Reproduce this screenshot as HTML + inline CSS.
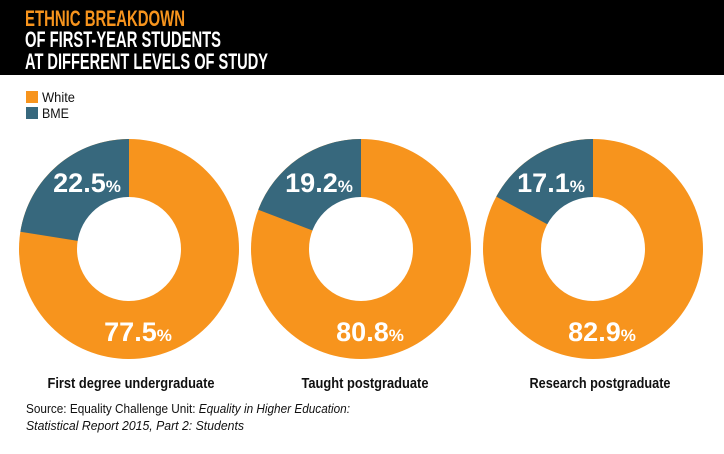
<!DOCTYPE html>
<html><head><meta charset="utf-8"><style>
body{margin:0;width:724px;height:449px;background:#fff;overflow:hidden;font-family:"Liberation Sans",sans-serif;}
</style></head><body>
<svg width="724" height="449" xmlns="http://www.w3.org/2000/svg" font-family="Liberation Sans, sans-serif">
<rect x="0" y="0" width="724" height="75" fill="#000"/>
<g font-weight="bold" font-size="22">
<text x="25" y="26" fill="#F7941D" textLength="160" lengthAdjust="spacingAndGlyphs">ETHNIC BREAKDOWN</text>
<text x="25" y="47" fill="#fff" textLength="196" lengthAdjust="spacingAndGlyphs">OF FIRST-YEAR STUDENTS</text>
<text x="25" y="69" fill="#fff" textLength="243" lengthAdjust="spacingAndGlyphs">AT DIFFERENT LEVELS OF STUDY</text>
</g>
<rect x="26" y="91" width="12" height="12" fill="#F7941D"/>
<rect x="26" y="107" width="12" height="12" fill="#37687D"/>
<text x="42" y="102" font-size="14" fill="#111" textLength="33" lengthAdjust="spacingAndGlyphs">White</text>
<text x="42" y="118" font-size="14" fill="#111" textLength="27" lengthAdjust="spacingAndGlyphs">BME</text>
<g id="donuts"></g>
<g font-size="13" fill="#111">
<text x="26" y="413" textLength="324" lengthAdjust="spacingAndGlyphs">Source: Equality Challenge Unit: <tspan font-style="italic">Equality in Higher Education:</tspan></text>
<text x="26" y="430" font-style="italic" textLength="218" lengthAdjust="spacingAndGlyphs">Statistical Report 2015, Part 2: Students</text>
</g>
</svg>
<script>
var data=[[129,22.5,"First degree undergraduate",131,167],[361,19.2,"Taught postgraduate",365,127],[593,17.1,"Research postgraduate",600,141]];
var g=document.getElementById("donuts"),ns="http://www.w3.org/2000/svg",cy=249,R=110,r=52;
function pt(cx,a,rad){return [cx+rad*Math.sin(a),cy-rad*Math.cos(a)];}
data.forEach(function(d){
 var cx=d[0],f=d[1]/100,a=-2*Math.PI*f;
 var c=document.createElementNS(ns,"circle");c.setAttribute("cx",cx);c.setAttribute("cy",cy);c.setAttribute("r",R);c.setAttribute("fill","#F7941D");g.appendChild(c);
 var p1=pt(cx,a,R);
 var p=document.createElementNS(ns,"path");p.setAttribute("d","M"+cx+","+cy+" L"+cx+","+(cy-R)+" A"+R+","+R+" 0 0 0 "+p1[0]+","+p1[1]+" Z");p.setAttribute("fill","#37687D");g.appendChild(p);
 var h=document.createElementNS(ns,"circle");h.setAttribute("cx",cx);h.setAttribute("cy",cy);h.setAttribute("r",r);h.setAttribute("fill","#fff");g.appendChild(h);
 function t(x,y,s){var e=document.createElementNS(ns,"text");e.setAttribute("x",x);e.setAttribute("y",y);e.setAttribute("text-anchor","middle");e.setAttribute("fill","#fff");e.setAttribute("font-weight","bold");e.innerHTML='<tspan font-size="27">'+s+'</tspan><tspan font-size="17">%</tspan>';g.appendChild(e);}
 t(cx-42,192,d[1].toFixed(1));
 t(cx+9,341,(100-d[1]).toFixed(1));
 var l=document.createElementNS(ns,"text");l.setAttribute("x",d[3]-d[4]/2);l.setAttribute("y",388);l.setAttribute("font-weight","bold");l.setAttribute("font-size","15");l.setAttribute("fill","#111");l.setAttribute("textLength",d[4]);l.setAttribute("lengthAdjust","spacingAndGlyphs");l.textContent=d[2];g.appendChild(l);
});
</script>
</body></html>
